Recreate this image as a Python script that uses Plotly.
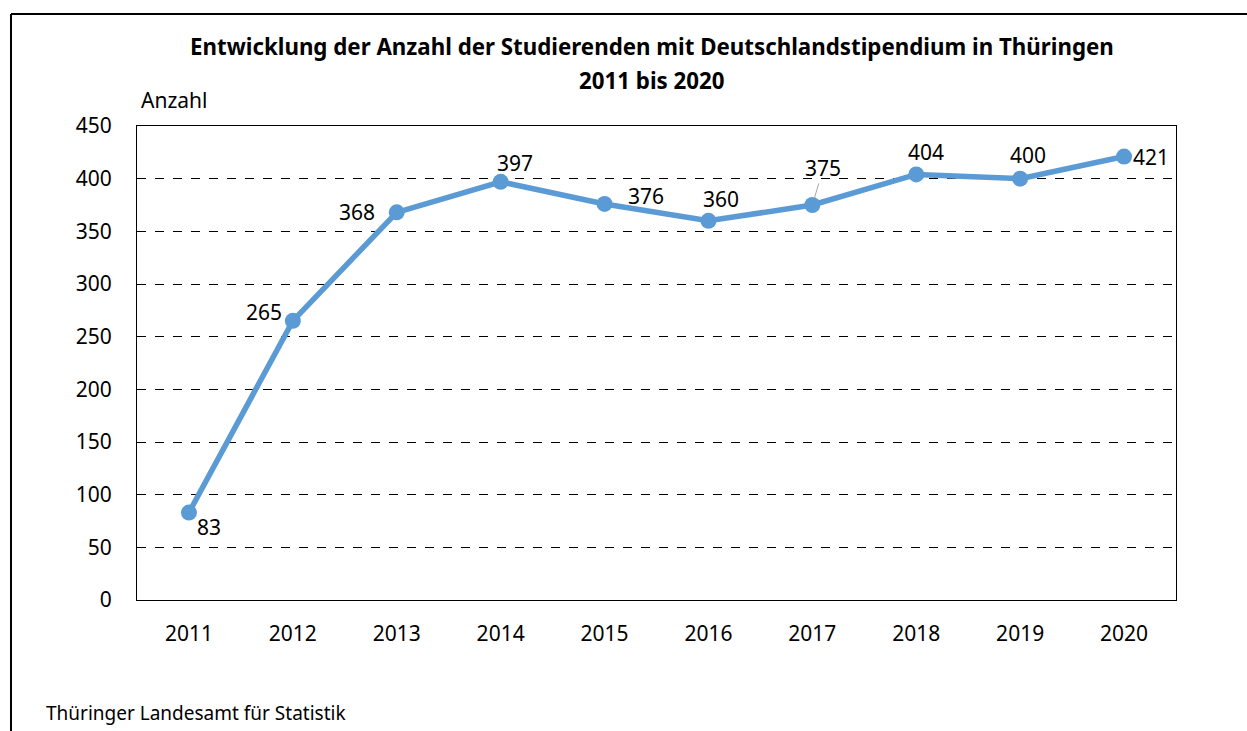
import plotly.graph_objects as go

years = ["2011", "2012", "2013", "2014", "2015", "2016", "2017", "2018", "2019", "2020"]
values = [83, 265, 368, 397, 376, 360, 375, 404, 400, 421]
# label offsets in pixels (dx, dy up)
label_dx = [20, -29, -40, 14, 41, 13, 11, 10, 8, 27]
label_dy = [-14, 9, 0, 19, 8, 22, 37, 22, 24, 0]
yticks = [0, 50, 100, 150, 200, 250, 300, 350, 400, 450]

FONT = "Noto Sans"
W, H = 1247, 731
L, R, T, B = 137, 1176, 126, 600
pw, ph = R - L, B - T

def px(x):
    return (x - L) / pw

def py(y):
    return (B - y) / ph

fig = go.Figure()
fig.add_trace(go.Scatter(
    x=years, y=values, mode="lines+markers",
    line=dict(color="#5B9BD5", width=5.5),
    marker=dict(color="#5B9BD5", size=16),
    hoverinfo="skip", showlegend=False,
))

ann = []
for i, (yr, v, dx, dy) in enumerate(zip(years, values, label_dx, label_dy)):
    if yr == "2017":
        ann.append(dict(x=i, y=v, xref="x", yref="y", text=str(v), showarrow=True,
                        arrowhead=0, arrowwidth=1, arrowcolor="#A6A6A6", ax=dx, ay=-dy,
                        standoff=8, font=dict(family=FONT, size=21, color="#000")))
    else:
        ann.append(dict(x=i, y=v, xref="x", yref="y", text=str(v), showarrow=False,
                        xshift=dx, yshift=dy, font=dict(family=FONT, size=21, color="#000")))

ann += [
    dict(text="<b>Entwicklung der Anzahl der Studierenden mit Deutschlandstipendium in Thüringen</b>",
         x=px(652), y=py(47), xref="paper", yref="paper", showarrow=False,
         xanchor="center", yanchor="middle", font=dict(family=FONT, size=22.3, color="#000")),
    dict(text="<b>2011 bis 2020</b>",
         x=px(652), y=py(80), xref="paper", yref="paper", showarrow=False,
         xanchor="center", yanchor="middle", font=dict(family=FONT, size=22.3, color="#000")),
    dict(text="Anzahl", x=px(139), y=py(100), xref="paper", yref="paper", showarrow=False,
         xanchor="left", yanchor="middle", font=dict(family=FONT, size=21, color="#000")),
    dict(text="Thüringer Landesamt für Statistik", x=px(44), y=py(713), xref="paper", yref="paper",
         showarrow=False, xanchor="left", yanchor="middle", font=dict(family=FONT, size=19, color="#000")),
]

shapes = [
    dict(type="line", xref="paper", yref="paper", x0=px(11), x1=px(11), y0=py(14), y1=py(760),
         line=dict(color="#000", width=2)),
    dict(type="line", xref="paper", yref="paper", x0=px(11), x1=px(1300), y0=py(14), y1=py(14),
         line=dict(color="#000", width=2)),
]

fig.update_layout(
    width=W, height=H,
    margin=dict(l=L, r=W - R, t=T, b=H - B),
    paper_bgcolor="white", plot_bgcolor="white",
    annotations=ann, shapes=shapes,
    font=dict(family=FONT, size=21, color="#000"),
)
fig.update_xaxes(type="category", range=[-0.5, 9.5], showgrid=False, showline=True,
                 linecolor="#000", linewidth=1, mirror=True, ticks="", ticklabelstandoff=15,
                 tickfont=dict(family=FONT, size=21, color="#000"), fixedrange=True)
fig.update_yaxes(range=[0, 450], tickvals=yticks, showgrid=True, gridcolor="#000", gridwidth=1,
                 griddash="dash", showline=True, linecolor="#000", linewidth=1, mirror=True,
                 ticks="", ticklabelstandoff=20, zeroline=False,
                 tickfont=dict(family=FONT, size=21, color="#000"), fixedrange=True)

fig.write_html("out.html")
